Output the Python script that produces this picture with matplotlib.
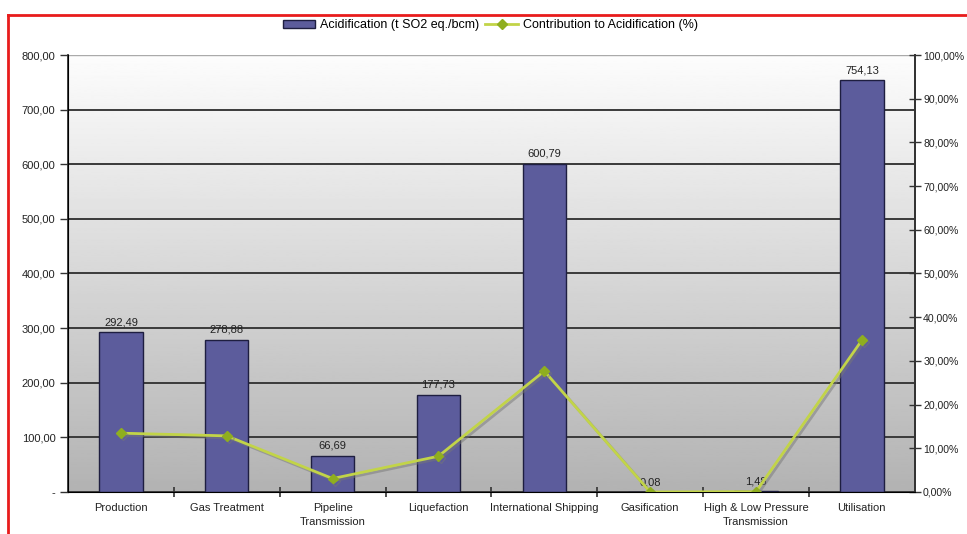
import matplotlib.pyplot as plt
import matplotlib.patheffects as pe
import numpy as np
from matplotlib.lines import Line2D
from matplotlib.patches import Patch

plt.rcParams['font.family'] = ['Liberation Sans', 'DejaVu Sans']

categories = ['Production', 'Gas Treatment', 'Pipeline\nTransmission', 'Liquefaction',
              'International Shipping', 'Gasification', 'High & Low Pressure\nTransmission',
              'Utilisation']
acidification = [292.49, 278.88, 66.69, 177.73, 600.79, 0.08, 1.48, 754.13]
value_labels = ['292,49', '278,88', '66,69', '177,73', '600,79', '0,08', '1,48', '754,13']
contribution = [13.46, 12.84, 3.07, 8.18, 27.66, 0.00, 0.07, 34.72]

left_ticks = [0, 100, 200, 300, 400, 500, 600, 700, 800]
left_labels = ['-', '100,00', '200,00', '300,00', '400,00', '500,00', '600,00', '700,00', '800,00']
right_ticks = [0, 10, 20, 30, 40, 50, 60, 70, 80, 90, 100]
right_labels = ['0,00%', '10,00%', '20,00%', '30,00%', '40,00%', '50,00%', '60,00%',
                '70,00%', '80,00%', '90,00%', '100,00%']

bar_col = '#5c5c9c'
line_col = '#c2d448'
mark_col = '#8fae1f'
txt = '#222222'

fig = plt.figure(figsize=(9.67, 5.34), dpi=100)
ax = fig.add_axes([0.0703, 0.0787, 0.8757, 0.8183])
x = np.arange(len(categories))

# gradient plot background
grad = np.linspace(0.99, 0.70, 256).reshape(-1, 1)
ax.imshow(grad, cmap='gray', vmin=0, vmax=1, aspect='auto', extent=[0, 1, 0, 1],
          transform=ax.transAxes, zorder=-2)

ax.bar(x, acidification, width=0.41, color=bar_col, edgecolor='#1e1e40', linewidth=1, zorder=3)
for xi, v, lab in zip(x, acidification, value_labels):
    ax.text(xi, v + 9, lab, ha='center', va='bottom', fontsize=8, color=txt, zorder=4)

for t in left_ticks[1:-1]:
    ax.axhline(t, color='#3a3a3a', lw=1.4, zorder=1)
ax.axhline(800, color='#aaaaaa', lw=1, zorder=1)

ax.set_xlim(-0.5, len(categories) - 0.5)
ax.set_ylim(0, 800)
ax.set_yticks(left_ticks)
ax.set_yticklabels(left_labels)
ax.set_xticks(x)
ax.set_xticklabels(categories, fontsize=8, color=txt, linespacing=1.45)
ax.set_xticks(x[:-1] + 0.5, minor=True)
ax.tick_params(axis='x', which='major', length=0, pad=8)
ax.tick_params(axis='x', which='minor', direction='inout', length=7, width=1.2, color='#333333')
ax.tick_params(axis='y', labelsize=8, labelcolor=txt, length=6, width=1, color='#333333', pad=3)
ax.spines['top'].set_visible(False)
for s in ['left', 'right', 'bottom']:
    ax.spines[s].set_color('#333333')
    ax.spines[s].set_linewidth(1.3)

ax2 = ax.twinx()
ax2.plot(x, contribution, color=line_col, lw=2, marker='D', markersize=5,
         markerfacecolor=mark_col, markeredgecolor=mark_col, zorder=5,
         path_effects=[pe.SimpleLineShadow(offset=(1.5, -1.5), shadow_color='#777777', alpha=0.5),
                       pe.Normal()])
ax2.set_ylim(0, 100)
ax2.set_yticks(right_ticks)
ax2.set_yticklabels(right_labels)
ax2.tick_params(axis='y', labelsize=7.6, labelcolor=txt, direction='inout', length=8,
                width=1, color='#333333', pad=2)
ax2.spines['top'].set_visible(False)
ax2.spines['right'].set_color('#333333')
ax2.spines['right'].set_linewidth(1.3)

handles = [Patch(facecolor=bar_col, edgecolor='#1e1e40'),
           Line2D([0], [0], color=line_col, lw=2, marker='D', markersize=5,
                  markerfacecolor=mark_col, markeredgecolor=mark_col)]
fig.legend(handles, ['Acidification (t SO2 eq./bcm)', 'Contribution to Acidification (%)'],
           loc='center', bbox_to_anchor=(0.507, 0.953), ncol=2, frameon=False,
           fontsize=9, handlelength=2.6, handleheight=0.6, columnspacing=0.5, handletextpad=0.4)

# red frame on top and left
fig.add_artist(Line2D([8 / 967, 1], [1 - 15 / 534, 1 - 15 / 534], color='#e81c1c', lw=2,
                      transform=fig.transFigure))
fig.add_artist(Line2D([8 / 967, 8 / 967], [0, 1 - 15 / 534], color='#e81c1c', lw=2,
                      transform=fig.transFigure))

fig.savefig('out.png', dpi=100)
